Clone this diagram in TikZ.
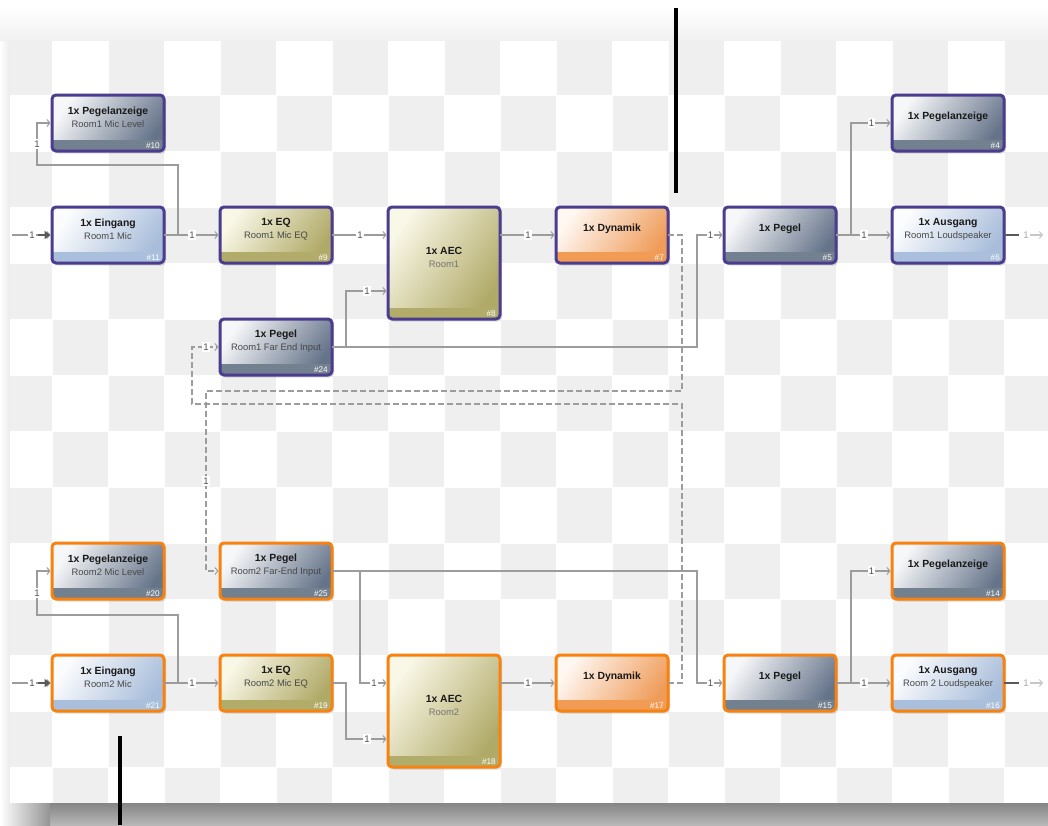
\documentclass[tikz,border=0pt]{standalone}
\usepackage{fontspec}
\setmainfont{Liberation Sans}
\usetikzlibrary{arrows.meta,calc}
\definecolor{purp}{HTML}{4B3C8E}
\definecolor{orng}{HTML}{F7820F}
\definecolor{cellg}{HTML}{EFEFEF}
\definecolor{lineg}{HTML}{9C9C9C}
\definecolor{labc}{HTML}{505050}
\definecolor{darkc}{HTML}{5A5A5A}
\definecolor{gbT}{HTML}{F6F7F9}\definecolor{gbB}{HTML}{66748A}\definecolor{gbF}{HTML}{72808F}
\definecolor{lbT}{HTML}{FBFCFE}\definecolor{lbB}{HTML}{A8BDDA}\definecolor{lbF}{HTML}{A9BFDB}
\definecolor{olT}{HTML}{F9F7E6}\definecolor{olB}{HTML}{B0AA68}\definecolor{olF}{HTML}{B2AC6A}
\definecolor{orT}{HTML}{FFF7F1}\definecolor{orB}{HTML}{EF9C5A}\definecolor{orF}{HTML}{F29B55}
\newcommand\blk[8]{%
  \node[blkbase, fill=black, fill opacity=0.13, minimum width=#4, minimum height=#5] at ({#2+2},{#3+2.5}) {};
  \node[blkbase, #6, minimum width=#4, minimum height=#5] (#1) at (#2,#3) {};
  \begin{scope}
    \clip[rounded corners=4pt] (#1.south west) rectangle (#1.north east);
    \fill[#6foot] ($(#1.south west)+(0,-11)$) rectangle (#1.south east);
  \end{scope}
  \draw[#7, line width=3pt, rounded corners=4pt] (#1.south west) rectangle (#1.north east);
  \node[numtxt, anchor=east] at ($(#1.south east)+(-4,-5.5)$) {\##8};
}
\newcommand\bt[4]{\node[txt] at ($(#1.center)+(0,-5.5)$) {{\bfseries\fontsize{10.4}{13}\selectfont #2}\\{\color{#4}\fontsize{9.4}{13}\selectfont #3}};}
\newcommand\bone[2]{\node[txt] at ($(#1.center)+(0,-6)$) {\bfseries\fontsize{10.4}{13}\selectfont #2};}
\begin{document}
\begin{tikzpicture}[x=1pt,y=-1pt,
  blkbase/.style={rectangle, rounded corners=4pt, inner sep=0pt, outer sep=0pt},
  gb/.style={top color=gbT, bottom color=gbB, shading angle=55},
  lb/.style={top color=lbT, bottom color=lbB, shading angle=55},
  ol/.style={top color=olT, bottom color=olB, shading angle=55},
  orr/.style={top color=orT, bottom color=orB, shading angle=55},
  gbfoot/.style={fill=gbF}, lbfoot/.style={fill=lbF}, olfoot/.style={fill=olF}, orrfoot/.style={fill=orF},
  numtxt/.style={text=white, font=\fontsize{8.2}{9}\selectfont, inner sep=0pt},
  txt/.style={align=center, text=black!90, inner sep=0pt, font=\fontsize{9}{13}\selectfont},
  conn/.style={draw=lineg, line width=1.2pt, -{Straight Barb[length=3pt,width=7pt,line width=1pt]}, shorten >=1.5pt},
  dconn/.style={conn, dash pattern=on 6pt off 3pt},
  lab/.style={font=\fontsize{9.6}{10}\selectfont, text=labc, fill=white, inner sep=1.3pt},
  inarrow/.style={draw=darkc, line width=2.2pt, -{Triangle[length=6pt,width=8pt]}, shorten >=1.5pt},
  outthick/.style={draw=darkc, line width=2.5pt},
  outarrow/.style={draw=black!22, line width=1.2pt, -{Straight Barb[length=3pt,width=7pt,line width=1pt]}},
  outlab/.style={font=\fontsize{9.6}{10}\selectfont, text=black!35, inner sep=1pt}
]
\useasboundingbox (0,0) rectangle (1048,825);
\fill[white] (0,0) rectangle (1048,825);
\shade[top color=white, bottom color=black!6] (0,8) rectangle (1048,41);
\shade[left color=white, right color=black!8] (0,41) rectangle (10,803);
\fill[white] (10,41) rectangle (1048,803);
\begin{scope}
  \clip (10,41) rectangle (1048,803);
  \foreach \c in {0,...,18}{
    \foreach \r in {0,...,13}{
      \pgfmathparse{int(mod(\c+\r,2))}
      \ifnum\pgfmathresult=0
        \fill[cellg] ({52+56*(\c-1)+0.5},{95+56*(\r-1)+0.5}) rectangle ++(55,55);
      \fi
    }
  }
\end{scope}
% bottom shadow
\shade[top color=black!48, bottom color=black!28] (50,803) rectangle (1048,825);
\shade[left color=white, right color=black!42] (0,803) rectangle (50,825);
% blocks
\blk{p10}{108}{123}{112pt}{56pt}{gb}{purp}{10}
\blk{e11}{108}{235}{112pt}{56pt}{lb}{purp}{11}
\blk{q9}{276}{235}{112pt}{56pt}{ol}{purp}{9}
\blk{a8}{444}{263}{112pt}{112pt}{ol}{purp}{8}
\blk{d7}{612}{235}{112pt}{56pt}{orr}{purp}{7}
\blk{g5}{780}{235}{112pt}{56pt}{gb}{purp}{5}
\blk{p4}{948}{123}{112pt}{56pt}{gb}{purp}{4}
\blk{o6}{948}{235}{112pt}{56pt}{lb}{purp}{6}
\blk{g24}{276}{347}{112pt}{56pt}{gb}{purp}{24}
\blk{p20}{108}{571}{112pt}{56pt}{gb}{orng}{20}
\blk{g25}{276}{571}{112pt}{56pt}{gb}{orng}{25}
\blk{e21}{108}{683}{112pt}{56pt}{lb}{orng}{21}
\blk{q19}{276}{683}{112pt}{56pt}{ol}{orng}{19}
\blk{a18}{444}{711}{112pt}{112pt}{ol}{orng}{18}
\blk{d17}{612}{683}{112pt}{56pt}{orr}{orng}{17}
\blk{g15}{780}{683}{112pt}{56pt}{gb}{orng}{15}
\blk{p14}{948}{571}{112pt}{56pt}{gb}{orng}{14}
\blk{o16}{948}{683}{112pt}{56pt}{lb}{orng}{16}
% texts
\bt{p10}{1x Pegelanzeige}{Room1 Mic Level}{black!72}
\bt{e11}{1x Eingang}{Room1 Mic}{black!72}
\bt{q9}{1x EQ}{Room1 Mic EQ}{black!72}
\bt{a8}{1x AEC}{Room1}{black!55}
\bone{d7}{1x Dynamik}
\bone{g5}{1x Pegel}
\bone{p4}{1x Pegelanzeige}
\bt{o6}{1x Ausgang}{Room1 Loudspeaker}{black!72}
\bt{g24}{1x Pegel}{Room1 Far End Input}{black!72}
\bt{p20}{1x Pegelanzeige}{Room2 Mic Level}{black!72}
\bt{g25}{1x Pegel}{Room2 Far-End Input}{black!72}
\bt{e21}{1x Eingang}{Room2 Mic}{black!72}
\bt{q19}{1x EQ}{Room2 Mic EQ}{black!72}
\bt{a18}{1x AEC}{Room2}{black!55}
\bone{d17}{1x Dynamik}
\bone{g15}{1x Pegel}
\bone{p14}{1x Pegelanzeige}
\bt{o16}{1x Ausgang}{Room 2 Loudspeaker}{black!72}
% ports
\coordinate (a8i1) at ($(a8.north west)+(0,28)$);
\coordinate (a8i2) at ($(a8.north west)+(0,84)$);
\coordinate (a8o) at ($(a8.north east)+(0,28)$);
\coordinate (a18i1) at ($(a18.north west)+(0,28)$);
\coordinate (a18i2) at ($(a18.north west)+(0,84)$);
\coordinate (a18o) at ($(a18.north east)+(0,28)$);
\coordinate (in1) at (12,235);
\coordinate (in2) at (12,683);
\coordinate (out1) at (1043,235);
\coordinate (out2) at (1043,683);
% ---- Room 1 connectors
\draw[conn] (in1) -- node[lab,pos=0.5]{1} (e11.west);
\draw[inarrow] (38,235) -- (e11.west);
\draw[conn] (e11.east) -- node[lab]{1} (q9.west);
\draw[conn] (e11.east) -- (178,235) -- (178,165) -- (37,165) -- node[lab]{1} (37,123) -- (p10.west);
\draw[conn] (q9.east) -- node[lab]{1} (a8i1);
\draw[conn] (g24.east) -- (346,347) -- (346,291) -- node[lab]{1} (a8i2);
\draw[conn] (g24.east) -- (697,347) -- (697,235) -- node[lab]{1} (g5.west);
\draw[conn] (a8o) -- node[lab]{1} (d7.west);
\draw[conn] (g5.east) -- node[lab]{1} (o6.west);
\draw[conn] (g5.east) -- (851,235) -- (851,123) -- node[lab]{1} (p4.west);
\draw[outthick] (o6.east) -- ++(15,0) coordinate (o6t);
\node[outlab] (o6l) at (1026,235) {1};
\draw[outarrow] (o6l.east) -- (out1);
% ---- Room 2 connectors
\draw[conn] (in2) -- node[lab,pos=0.5]{1} (e21.west);
\draw[inarrow] (38,683) -- (e21.west);
\draw[conn] (e21.east) -- node[lab]{1} (q19.west);
\draw[conn] (e21.east) -- (178,683) -- (178,615) -- (37,615) -- node[lab]{1} (37,571) -- (p20.west);
\draw[conn] (q19.east) -- (346,683) -- (346,739) -- node[lab]{1} (a18i2);
\draw[conn] (g25.east) -- (360,571) -- (360,683) -- node[lab]{1} (a18i1);
\draw[conn] (g25.east) -- (697,571) -- (697,683) -- node[lab]{1} (g15.west);
\draw[conn] (a18o) -- node[lab]{1} (d17.west);
\draw[conn] (g15.east) -- node[lab]{1} (o16.west);
\draw[conn] (g15.east) -- (851,683) -- (851,571) -- node[lab]{1} (p14.west);
\draw[outthick] (o16.east) -- ++(15,0) coordinate (o16t);
\node[outlab] (o16l) at (1026,683) {1};
\draw[outarrow] (o16l.east) -- (out2);
% ---- dashed cross connections
\draw[dconn] (d7.east) -- (682,235) -- (682,391) -- (206,391) -- node[lab]{1} (206,571) -- (g25.west);
\draw[dconn] (d17.east) -- (682,683) -- (682,404) -- (192,404) -- (192,347) -- node[lab]{1} (g24.west);
% black marks
\draw[line width=4pt] (676,8) -- (676,193);
\draw[line width=4pt] (120,736) -- (120,825);
\end{tikzpicture}
\end{document}
